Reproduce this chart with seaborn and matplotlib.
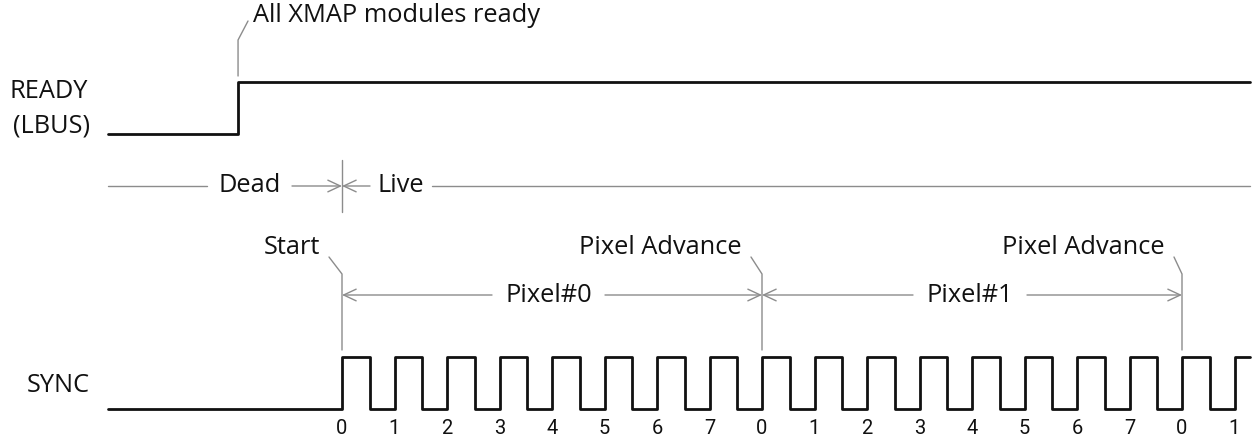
import matplotlib
matplotlib.use("Agg")
import matplotlib.pyplot as plt
import seaborn as sns
import pandas as pd

# ---------------- data (time in SYNC clock periods; 0 = first SYNC edge) ----------------
t_start = -4.46
t_end = 17.3
ready_t = [-4.46, -1.98, 17.3]
ready_level = [0, 1, 1]
sync_rise = [0, 1, 2, 3, 4, 5, 6, 7, 8, 9, 10, 11, 12, 13, 14, 15, 16, 17]
sync_fall = [0.53, 1.53, 2.53, 3.53, 4.53, 5.53, 6.53, 7.53, 8.53, 9.53,
             10.53, 11.53, 12.53, 13.53, 14.53, 15.53, 16.53]
clock_labels = ["0", "1", "2", "3", "4", "5", "6", "7",
                "0", "1", "2", "3", "4", "5", "6", "7", "0", "1"]
pixel_advance = [0, 8, 16]
pixel_names = ["Pixel#0", "Pixel#1"]
marker_labels = ["Start", "Pixel Advance", "Pixel Advance"]
dead_live = ["Dead", "Live"]
signal_names = ["READY", "(LBUS)", "SYNC"]
ready_note = "All XMAP modules ready"

# ---------------- layout helpers ----------------
PX0, PER = 342.0, 52.5          # pixel of t=0 and pixels per period
def px(x):                      # pixel column -> time units
    return (x - PX0) / PER

W, H = 1257, 442
sns.set_theme(style="white")
plt.rcParams['font.family'] = ['Open Sans', 'DejaVu Sans']

fig = plt.figure(figsize=(W / 100, H / 100), dpi=100)
ax = fig.add_axes([0, 0, 1, 1])
ax.set_xlim(px(0), px(W))
ax.set_ylim(H, 0)
ax.axis("off")

SIG = dict(color="#111111", lw=2.0)
GRAY = "#8c8c8c"
THIN = dict(color=GRAY, lw=1.0)
ARW = dict(arrowstyle="->,head_length=0.9,head_width=0.42", color=GRAY, lw=1.0,
           mutation_scale=10, shrinkA=0, shrinkB=0)
FS = 18.3
TXT = "#111111"

# ---------------- READY signal ----------------
READY_LO, READY_HI = 134, 82
rdf = pd.DataFrame({"t": ready_t,
                    "y": [READY_LO - (READY_LO - READY_HI) * v for v in ready_level]})
sns.lineplot(data=rdf, x="t", y="y", ax=ax, drawstyle="steps-post",
             estimator=None, sort=False, **SIG)

# ---------------- SYNC signal ----------------
SYNC_LO, SYNC_HI = 409, 357
st, sv = [t_start], [0]
for i, r in enumerate(sync_rise):
    st.append(r); sv.append(1)
    if i < len(sync_fall):
        st.append(sync_fall[i]); sv.append(0)
st.append(t_end); sv.append(sv[-1])
sdf = pd.DataFrame({"t": st, "y": [SYNC_LO - (SYNC_LO - SYNC_HI) * v for v in sv]})
sns.lineplot(data=sdf, x="t", y="y", ax=ax, drawstyle="steps-post",
             estimator=None, sort=False, **SIG)

for r, lab in zip(sync_rise, clock_labels):
    ax.text(r, 429, lab, ha="center", va="center", fontsize=14.5, color=TXT,
            family=['Roboto', 'DejaVu Sans'])

# ---------------- signal names ----------------
ax.text(px(10), 91, signal_names[0], ha="left", va="center", fontsize=FS, color=TXT)
ax.text(px(13), 126, signal_names[1], ha="left", va="center", fontsize=FS, color=TXT)
ax.text(px(27), 386, signal_names[2], ha="left", va="center", fontsize=FS, color=TXT)

# ---------------- READY annotation ----------------
tr = ready_t[1]
ax.plot([tr, tr, px(248)], [76, 40, 21], **THIN)
ax.text(px(253), 16, ready_note, ha="left", va="center", fontsize=FS, color=TXT)

# ---------------- Dead / Live ----------------
DL = 186
ax.plot([t_start, px(207)], [DL, DL], **THIN)
ax.text(px(250), DL, dead_live[0], ha="center", va="center", fontsize=FS, color=TXT)
ax.annotate("", xy=(0, DL), xytext=(px(292), DL), arrowprops=ARW)
ax.annotate("", xy=(0, DL), xytext=(px(370), DL), arrowprops=ARW)
ax.text(px(401), DL, dead_live[1], ha="center", va="center", fontsize=FS, color=TXT)
ax.plot([px(432), t_end], [DL, DL], **THIN)
ax.plot([0, 0], [160, 212], **THIN)

# ---------------- pixel markers ----------------
PR = 295
label_right = [px(320), px(742), px(1165)]
for t_m, lab, xr in zip(pixel_advance, marker_labels, label_right):
    ax.plot([xr + px(351) - px(342), t_m, t_m], [257, 274, 350], **THIN)
    ax.text(xr, 247, lab, ha="right", va="center", fontsize=FS, color=TXT)

gaps = [(px(492), px(605)), (px(913), px(1027))]
for i, name in enumerate(pixel_names):
    a, b = pixel_advance[i], pixel_advance[i + 1]
    g0, g1 = gaps[i]
    ax.annotate("", xy=(a, PR), xytext=(g0, PR), arrowprops=ARW)
    ax.annotate("", xy=(b, PR), xytext=(g1, PR), arrowprops=ARW)
    ax.text((g0 + g1) / 2, PR, name, ha="center", va="center", fontsize=FS, color=TXT)

fig.savefig("out.png", dpi=100, facecolor="white")
